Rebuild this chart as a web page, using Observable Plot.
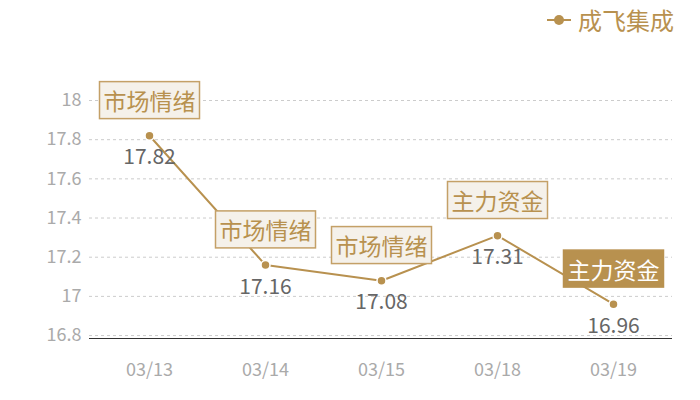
<!DOCTYPE html>
<html>
<head>
<meta charset="utf-8">
<script src="https://cdn.jsdelivr.net/npm/d3@7"></script>
<script src="https://cdn.jsdelivr.net/npm/@observablehq/plot@0.6"></script>
<style>
  html, body { margin: 0; padding: 0; background: #fff; }
  #wrap { position: relative; width: 700px; height: 400px; font-family: "Noto Sans CJK SC", "Noto Sans", sans-serif; }
  #legend { position: absolute; top: 2px; right: 26px; display: flex; align-items: center; color: #b8914f; font-size: 24px; }
</style>
</head>
<body>
<div id="wrap">
  <div id="legend">
    <svg width="26" height="20" style="margin-right:6px"><line x1="1" x2="25" y1="10" y2="10" stroke="#b8914f" stroke-width="2"/><circle cx="13" cy="10" r="5" fill="#b8914f"/></svg>
    <span>成飞集成</span>
  </div>
</div>
<script>
const dates = ["03/13", "03/14", "03/15", "03/18", "03/19"];
const prices = [17.82, 17.16, 17.08, 17.31, 16.96];
const tags = ["市场情绪", "市场情绪", "市场情绪", "主力资金", "主力资金"];
const highlighted = [false, false, false, false, true];
const yTicks = [16.8, 17, 17.2, 17.4, 17.6, 17.8, 18];
const seriesName = "成飞集成";

const gold = "#b8914f";
const data = dates.map((d, i) => ({date: d, price: prices[i], tag: tags[i], hl: highlighted[i]}));

const chart = Plot.plot({
  width: 700,
  height: 400,
  marginTop: 100,
  marginBottom: 62,
  marginLeft: 89,
  marginRight: 28,
  style: {fontFamily: '"Noto Sans CJK SC", "Noto Sans", sans-serif', background: "transparent"},
  x: {type: "point", domain: dates, padding: 0.5, label: null},
  y: {domain: [16.785, 18], label: null},
  marks: [
    Plot.gridY(yTicks, {stroke: "#cccccc", strokeOpacity: 1, strokeDasharray: "3,3"}),
    Plot.ruleY([16.785], {stroke: "#333", strokeWidth: 1}),
    Plot.axisY(yTicks, {tickSize: 0, tickPadding: 8, fontSize: 18, fill: "#aaaaaa", tickFormat: d => String(+d.toFixed(1))}),
    Plot.axisX({tickSize: 0, tickPadding: 25, fontSize: 18, fill: "#aaaaaa"}),
    Plot.line(data, {x: "date", y: "price", stroke: gold, strokeWidth: 2}),
    Plot.dot(data, {x: "date", y: "price", r: 4.5, fill: gold, stroke: "#fff", strokeWidth: 1.5}),
    Plot.text(data, {x: "date", y: "price", text: d => String(d.price), dy: 22, fontSize: 21, fill: "#666"}),
    Plot.text(data.filter(d => !d.hl), {x: "date", y: "price", text: "tag", dy: -33, fontSize: 23, fill: gold}),
    Plot.text(data.filter(d => d.hl), {x: "date", y: "price", text: "tag", dy: -33, fontSize: 23, fill: "#fefefe"})
  ]
});
document.getElementById("wrap").prepend(chart);

// draw a box behind each tag label
const tagSet = new Set(tags);
chart.querySelectorAll("text").forEach(t => {
  if (!tagSet.has(t.textContent)) return;
  let g = t, fillAttr = null;
  while (g && g !== chart) {
    if (g.getAttribute && g.getAttribute("fill")) { fillAttr = g.getAttribute("fill"); break; }
    g = g.parentNode;
  }
  const hl = fillAttr === "#fefefe";
  const b = t.getBBox();
  const padX = 4, padY = 1.5;
  const r = document.createElementNS("http://www.w3.org/2000/svg", "rect");
  r.setAttribute("x", b.x - padX);
  r.setAttribute("y", b.y - padY);
  r.setAttribute("width", b.width + 2 * padX);
  r.setAttribute("height", b.height + 2 * padY);
  r.setAttribute("fill", hl ? "#b8914f" : "#f5f1ea");
  r.setAttribute("stroke", hl ? "#b8914f" : "#c4a067");
  r.setAttribute("stroke-width", 1.5);
  const tr = t.getAttribute("transform");
  if (tr) r.setAttribute("transform", tr);
  t.parentNode.insertBefore(r, t);
});
</script>
</body>
</html>
